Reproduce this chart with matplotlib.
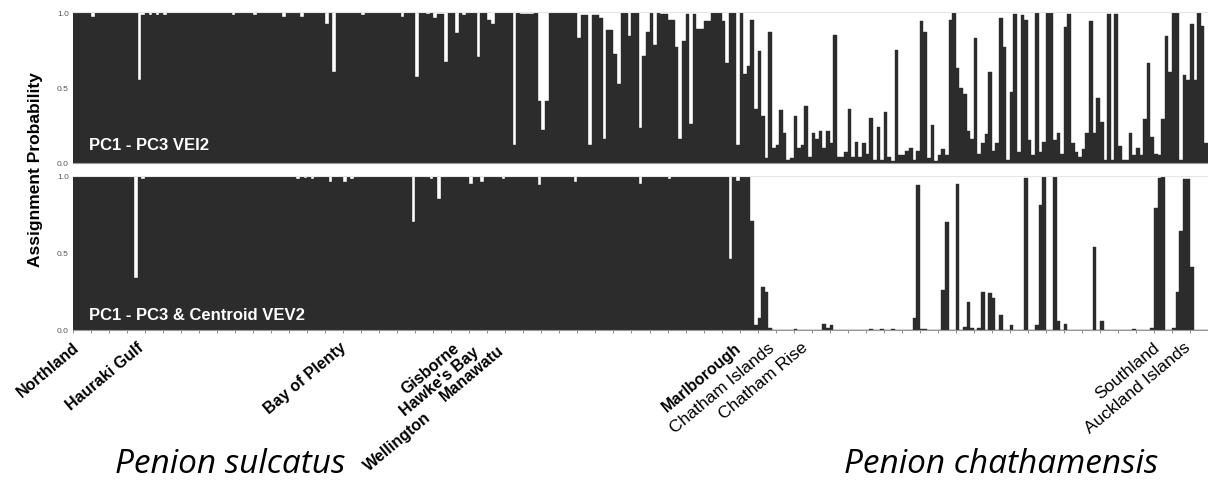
import numpy as np
import matplotlib
matplotlib.use('Agg')
import matplotlib.pyplot as plt

# assignment probability per specimen, left to right
vei2 = [
    1, 1, 1, 1, 1, .97, 1, 1, 1, 1,
    1, 1, 1, 1, 1, 1, 1, 1, .55, .98,
    1, .98, 1, .98, 1, .98, 1, 1, 1, 1,
    1, 1, 1, 1, 1, 1, 1, 1, 1, 1,
    1, 1, 1, 1, .98, 1, 1, 1, 1, 1,
    .98, 1, 1, 1, 1, 1, 1, 1, .97, 1,
    1, 1, 1, .97, 1, 1, 1, 1, 1, 1,
    .92, 1, .60, 1, 1, 1, 1, 1, 1, 1,
    .98, 1, 1, 1, 1, 1, 1, 1, 1, 1,
    1, .97, 1, 1, 1, .57, 1, 1, .99, 1,
    .96, .99, .99, .67, 1, 1, .86, 1, .98, 1,
    1, 1, .70, 1, 1, .95, .92, 1, 1, 1,
    1, 1, .12, 1, .99, .99, .99, .99, 1, .41,
    .22, .41, 1, 1, 1, 1, 1, 1, 1, 1,
    .83, .98, .98, .12, .98, .98, .96, .16, .88, .88,
    .72, .52, 1, 1, .84, 1, 1, .23, .71, .87,
    1, .78, 1, .99, .99, .95, .95, .77, .16, .81,
    .99, .26, .99, .89, .89, .94, .94, 1, 1, 1,
    .94, .66, 1, 1, .12, 1, .59, .64, .95, .36,
    .74, .31, .03, .87, .10, .12, .35, .20, .02, .03,
    .31, .10, .12, .38, .04, .20, .16,
    .21, .10, .21, .13, .85, .04, .04, .07, .36, .04,
    .14, .04, .13, .06, .30, .02, .24, .02, .34, .04,
    .01, .75, .05, .05, .08, .10, .02, .08, .94, .87,
    .03, .25, .01, .05, .09, .05, .95, 1.0, .63, .50,
    .46, .21, .16, .83, .06, .13, .19, .60, .08, .13,
    .96, .77, .02, .47, .99, .07, .98, .95, .15, .05,
    1.0, .07, .14, 1.0, 1.0, .15, .20, .06, .90, .99,
    .13, .07, .04, .09, .20, .94, .20, .43, .27, .02,
    .99, .02, .99, .11, .02, .02, .20, .05, .10,
    .05, .29, .66, .17, .06, .05, .29, .84, .60,
    1.0, 1.0, .02, .58, .55, .92, .55, 1.0, .91, .13,
]

vev2 = [
    1, 1, 1, 1, 1, 1, 1, 1, 1, 1,
    1, 1, 1, 1, 1, 1, 1, .34, 1, .98,
    1, 1, 1, 1, 1, 1, 1, 1, 1, 1,
    1, 1, 1, 1, 1, 1, 1, 1, 1, 1,
    1, 1, 1, 1, 1, 1, 1, 1, 1, 1,
    1, 1, .995, 1, 1, 1, 1, 1, 1, 1,
    1, 1, .98, 1, .985, 1, .98, 1, 1, 1,
    1, .96, 1, 1, 1, .96, 1, .98, 1, 1,
    1, 1, 1, 1, 1, 1, 1, 1, 1, 1,
    1, 1, 1, 1, .70, 1, 1, 1, 1, .98,
    1, .85, 1, 1, 1, 1, 1, 1, 1, 1,
    .95, 1, 1, .96, 1, 1, 1, 1, 1, .98,
    1, 1, 1, 1, 1, 1, 1, 1, 1, .94,
    1, 1, 1, 1, 1, 1, 1, 1, 1, .96,
    1, 1, 1, 1, 1, 1, 1, 1, 1, 1,
    1, 1, 1, 1, 1, 1, 1, .95, 1, 1,
    1, 1, 1, 1, 1, .98, 1, 1, 1, 1,
    1, 1, 1, 1, 1, 1, 1, 1, 1, 1,
    1, 1, .46, 1, .97, 1, 1, 1, .71, .03,
    .08, .28, .25, .01, 0, 0, 0, 0, 0, 0,
    .005, 0, 0, 0, 0, 0, 0, 0, .04, .01,
    .03, 0, 0, 0, 0, 0, 0, 0, 0, 0,
    0, .005, 0, 0, .005, 0, 0, .005, 0, 0,
    0, 0, 0, .08, .94, .005, .005, 0, 0, 0,
    0, .26, .70, 0, 0, .95, 0, .02, .18, .015,
    0, .015, .25, 0, .24, .21, 0, .10, 0, 0,
    .03, 0, 0, 0, .99, 0, 0, .03, .81, 1.0,
    0, 0, 1.0, .06, 0, .04, 0, 0, 0, 0,
    0, 0, 0, .54, 0, .06, 0, 0, 0, 0,
    0, 0, 0, 0, .005, 0, 0, 0, 0, .015,
    .79, .99, 1.0, 0, 0, .015, .25, .64, .98, .98,
    .41, 0, 0, 0, 0,
]

yticks = [0.0, 0.5, 1.0]
ytick_labels = ['0.0', '0.5', '1.0']
panel_titles = ['PC1 - PC3 VEI2', 'PC1 - PC3 & Centroid VEV2']

# region labels: name and the specimen index where each label ends
sulcatus_regions = ['Northland', 'Hauraki Gulf', 'Bay of Plenty', 'Gisborne',
                    "Hawke's Bay", 'Manawatu', 'Marlborough', 'Wellington']
sulcatus_at = [0.6, 18.6, 74.7, 106.1, 111.6, 118.6, 184.5, 98.4]
sulcatus_drop = [10.8, 10.8, 10.8, 10.8, 14.0, 12.5, 10.8, 61]
chathamensis_regions = ['Chatham Islands', 'Chatham Rise', 'Southland', 'Auckland Islands']
chathamensis_at = [193.6, 202.8, 300.5, 308.9]

bar_col = '#2c2c2c'
n = len(vei2)
x = np.arange(n)

plt.rcParams['font.family'] = ['Liberation Sans', 'DejaVu Sans']

fig = plt.figure(figsize=(12.08, 4.81), dpi=100)
W, H = 1208, 481
ax1 = fig.add_axes([73 / W, 1 - 164 / H, 1135 / W, 151 / H])
ax2 = fig.add_axes([73 / W, 1 - 331 / H, 1135 / W, 154 / H])

for ax, vals, title, ty in [(ax1, vei2, panel_titles[0], 0.12),
                            (ax2, vev2, panel_titles[1], 0.10)]:
    ax.bar(x, vals, width=1.0, color=bar_col, edgecolor=bar_col, linewidth=0.3)
    ax.set_xlim(-0.5, n - 0.5)
    ax.set_ylim(0, 1.0)
    ax.set_yticks(yticks)
    ax.set_yticklabels(ytick_labels)
    ax.tick_params(axis='y', length=0, labelsize=6, labelcolor='#555555', pad=3)
    for s in ['left', 'right']:
        ax.spines[s].set_visible(False)
    ax.spines['top'].set_color('#e6e6e6')
    ax.spines['top'].set_linewidth(0.8)
    ax.spines['bottom'].set_color('#9a9a9a')
    ax.spines['bottom'].set_linewidth(0.8)
    ax.text(0.014, ty, title, transform=ax.transAxes,
            color='white', fontsize=12, fontweight='bold', va='center', ha='left')

ax1.set_xticks([])
ax2.set_xticks(np.arange(-0.5, n, 5))
ax2.set_xticklabels([])
ax2.tick_params(axis='x', length=2.5, width=0.6, color='#777777', direction='out')

fig.text(36 / W, 1 - 170 / H, 'Assignment Probability', rotation=90,
         ha='center', va='center', fontsize=12.5, fontweight='bold')

for name, pos, drop in zip(sulcatus_regions, sulcatus_at, sulcatus_drop):
    ax2.annotate(name, xy=(pos, 0), xycoords=('data', 'axes fraction'),
                 xytext=(0, -drop), textcoords='offset points', rotation=40,
                 ha='right', va='center', rotation_mode='anchor',
                 fontsize=11.5, fontweight='bold')
for name, pos in zip(chathamensis_regions, chathamensis_at):
    ax2.annotate(name, xy=(pos, 0), xycoords=('data', 'axes fraction'),
                 xytext=(0, -10.8), textcoords='offset points', rotation=40,
                 ha='right', va='center', rotation_mode='anchor',
                 fontsize=12.5)

fig.text(230 / W, 1 - 465 / H, 'Penion sulcatus', ha='center', va='center',
         fontsize=24, style='italic', family=['Open Sans', 'DejaVu Sans'])
fig.text(1001 / W, 1 - 465 / H, 'Penion chathamensis', ha='center', va='center',
         fontsize=24, style='italic', family=['Open Sans', 'DejaVu Sans'])

fig.savefig('out.png', dpi=100)
